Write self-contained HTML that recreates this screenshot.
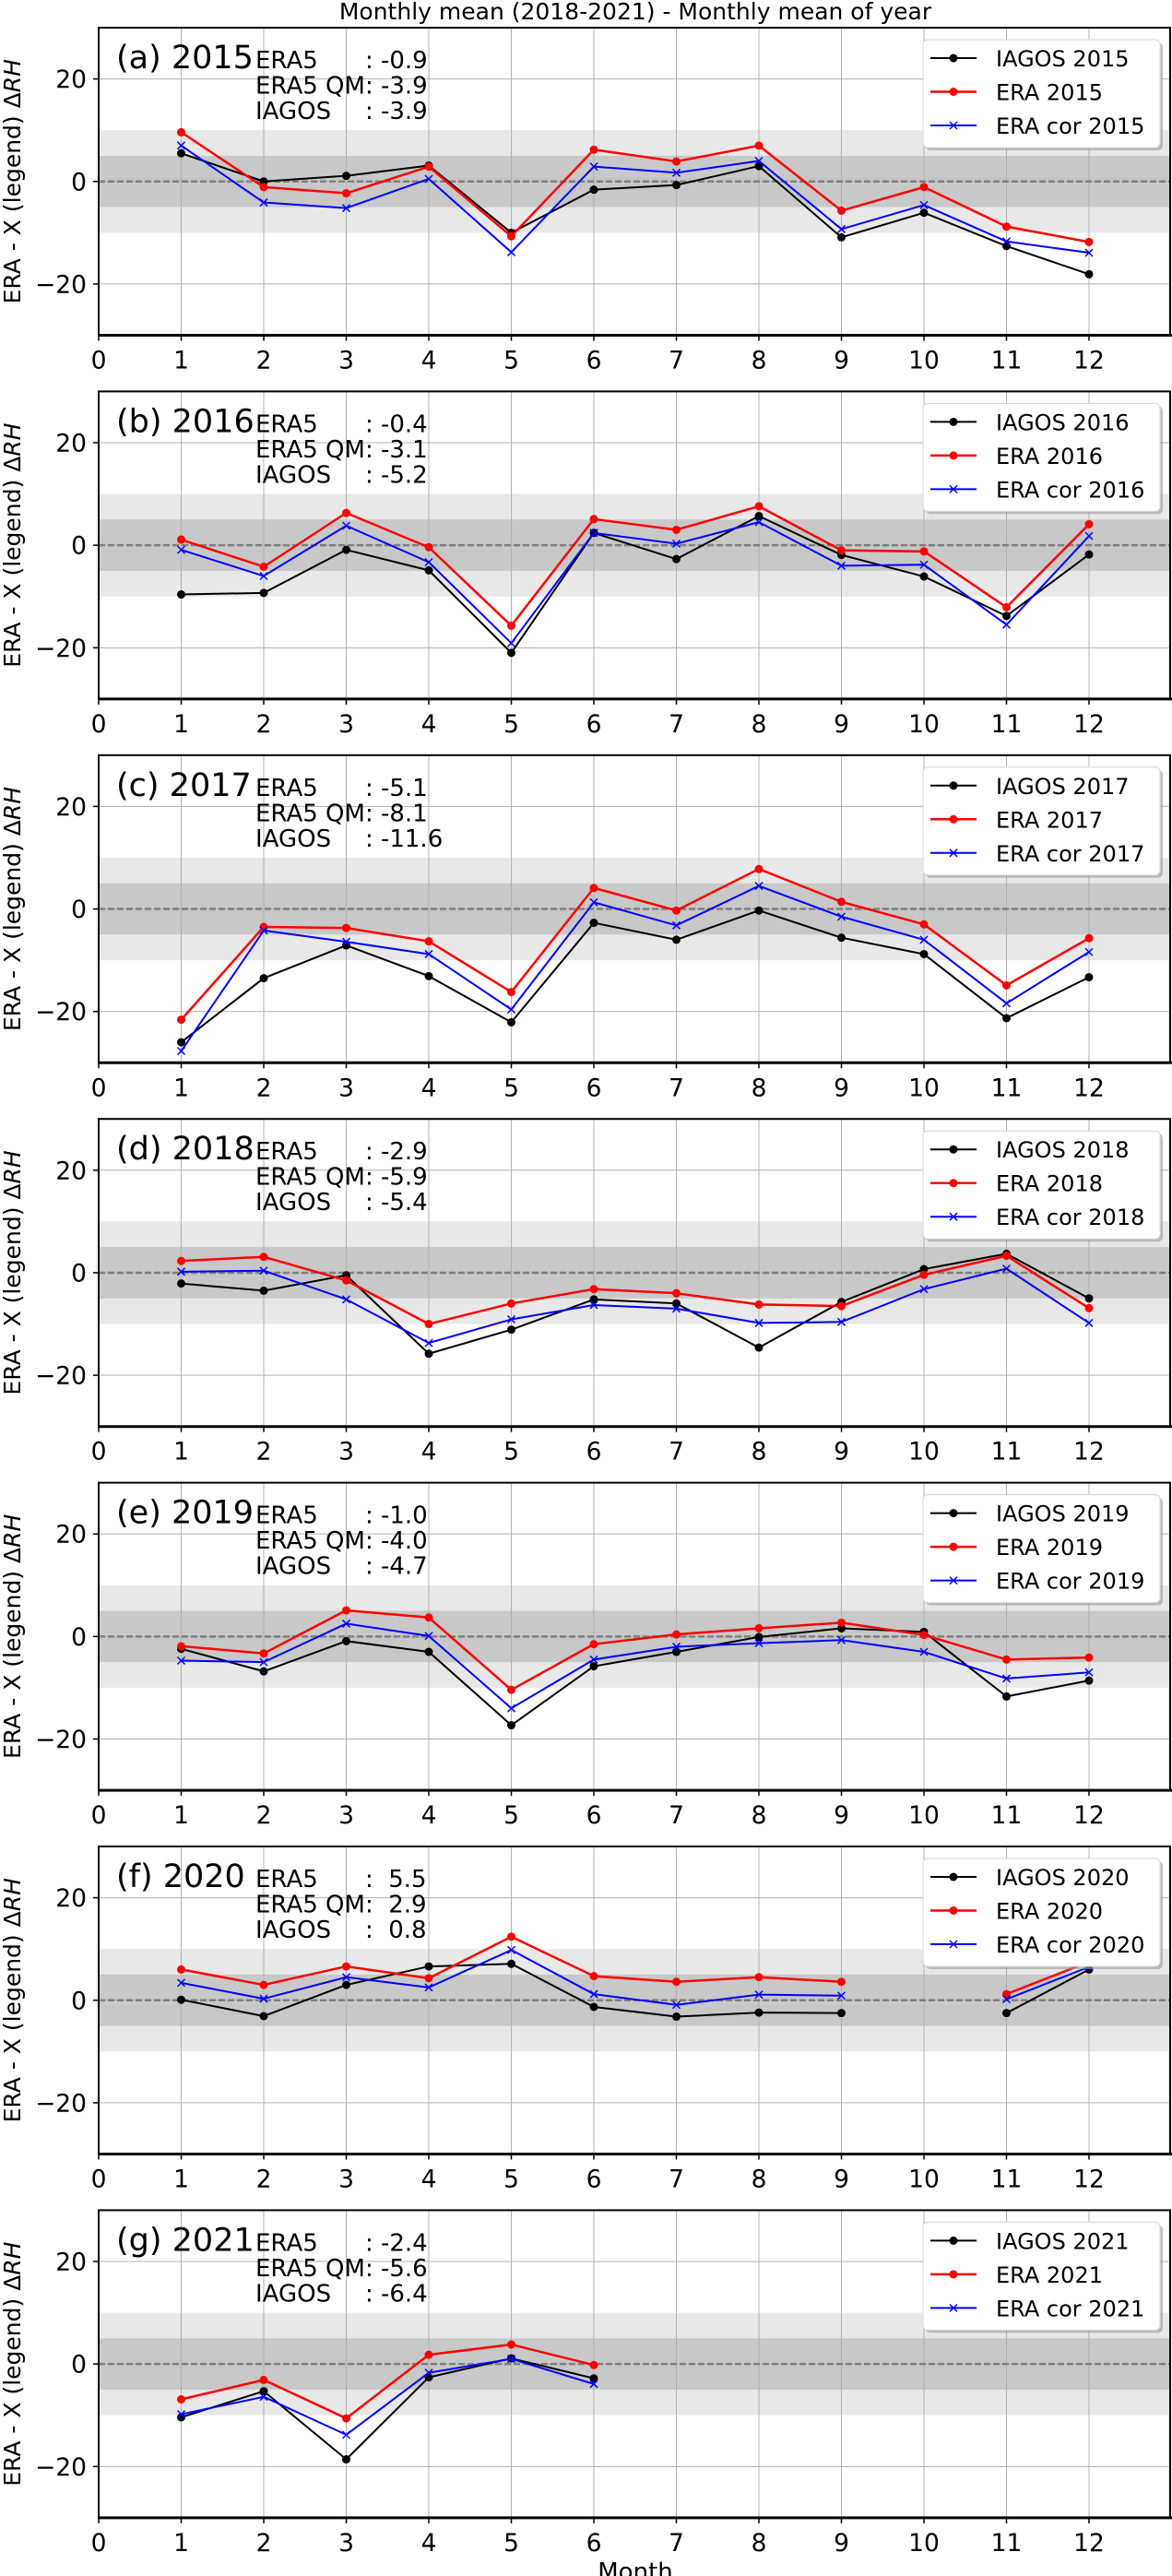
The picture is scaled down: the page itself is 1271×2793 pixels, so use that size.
<!DOCTYPE html>
<html><head><meta charset="utf-8"><style>
html,body{margin:0;padding:0;background:#fff;}
svg{display:block;font-family:"DejaVu Sans","Liberation Sans",sans-serif;}
</style></head><body>
<svg id="fig" width="1271" height="2793" viewBox="0 0 1271 2793" xmlns="http://www.w3.org/2000/svg">
<text x="689" y="21" font-size="25" text-anchor="middle">Monthly mean (2018-2021) - Monthly mean of year</text>
<text x="689" y="2797" font-size="26" text-anchor="middle">Month</text>
</svg>
<script>
const months = [1,2,3,4,5,6,7,8,9,10,11,12];
const xTicks = [0,1,2,3,4,5,6,7,8,9,10,11,12];
const yTicks = [20,0,-20];
const yTickLabels = ["20","0","\u221220"];
const years = ["2015","2016","2017","2018","2019","2020","2021"];
const panelLetters = ["a","b","c","d","e","f","g"];
const statEra5 = ["-0.9","-0.4","-5.1","-2.9","-1.0"," 5.5","-2.4"];
const statEra5QM = ["-3.9","-3.1","-8.1","-5.9","-4.0"," 2.9","-5.6"];
const statIagos = ["-3.9","-5.2","-11.6","-5.4","-4.7"," 0.8","-6.4"];

const iagos2015 = [5.5,0,1.1,3.1,-10,-1.6,-0.7,3,-10.9,-6.1,-12.6,-18.1];
const era2015   = [9.6,-1.1,-2.3,2.9,-10.7,6.2,3.9,7,-5.7,-1.1,-8.8,-11.8];
const cor2015   = [7,-4.1,-5.2,0.5,-13.8,2.9,1.7,4,-9.3,-4.6,-11.7,-13.9];
const iagos2016 = [-9.6,-9.3,-0.9,-4.9,-21,2.4,-2.7,5.7,-1.9,-6.1,-13.8,-1.8];
const era2016   = [1.1,-4.2,6.3,-0.4,-15.7,5.1,3.0,7.6,-1,-1.2,-12.1,4.1];
const cor2016   = [-0.9,-6,3.8,-3.3,-19.1,2.4,0.3,4.5,-4,-3.8,-15.5,1.8];
const iagos2017 = [-26,-13.5,-7.1,-13.1,-22.1,-2.7,-6,-0.3,-5.6,-8.8,-21.3,-13.3];
const era2017   = [-21.6,-3.5,-3.7,-6.3,-16.2,4.1,-0.3,7.8,1.4,-3,-14.9,-5.7];
const cor2017   = [-27.7,-4.2,-6.4,-8.8,-19.6,1.3,-3.2,4.5,-1.5,-6,-18.4,-8.4];
const iagos2018 = [-2.1,-3.5,-0.5,-15.8,-11.1,-5.2,-6,-14.6,-5.7,0.7,3.7,-5];
const era2018   = [2.3,3.1,-1.5,-10,-6,-3.2,-4,-6.2,-6.5,-0.4,3.3,-6.9];
const cor2018   = [0.2,0.4,-5.2,-13.7,-9.1,-6.3,-7,-9.8,-9.6,-3.2,0.8,-9.8];
const iagos2019 = [-2.4,-6.8,-0.9,-3,-17.3,-5.8,-3,-0.1,1.6,0.9,-11.7,-8.6];
const era2019   = [-1.9,-3.3,5.1,3.7,-10.4,-1.5,0.4,1.6,2.7,0.3,-4.5,-4.1];
const cor2019   = [-4.7,-5,2.5,0.1,-14,-4.5,-2,-1.3,-0.7,-3,-8.2,-7];
const iagos2020 = [0.1,-3.1,3,6.6,7.1,-1.3,-3.2,-2.4,-2.5,null,-2.5,6.0];
const era2020   = [6,3,6.6,4.3,12.4,4.7,3.6,4.5,3.6,null,1.2,7.5];
const cor2020   = [3.4,0.3,4.5,2.5,9.8,1.2,-0.9,1.1,0.9,null,0.2,6.5];
const iagos2021 = [-10.4,-5.3,-18.6,-2.6,1.1,-2.8,null,null,null,null,null,null];
const era2021   = [-6.9,-3.1,-10.6,1.8,3.8,-0.2,null,null,null,null,null,null];
const cor2021   = [-9.8,-6.4,-13.8,-1.7,1.0,-3.9,null,null,null,null,null,null];

const iagosSeries = [iagos2015,iagos2016,iagos2017,iagos2018,iagos2019,iagos2020,iagos2021];
const eraSeries = [era2015,era2016,era2017,era2018,era2019,era2020,era2021];
const corSeries = [cor2015,cor2016,cor2017,cor2018,cor2019,cor2020,cor2021];

const NS = "http://www.w3.org/2000/svg";
const svg = document.getElementById("fig");
function mk(tag, attrs, parent){
  const e = document.createElementNS(NS, tag);
  for (const k in attrs) e.setAttribute(k, attrs[k]);
  (parent||svg).appendChild(e);
  return e;
}
const X0 = 107, XR = 1269, XSTEP = 89.5, PH = 333.5, PSTEP = 394.4, TOP0 = 30;
const xPix = m => X0 + m * XSTEP;

years.forEach((yr, k) => {
  const top = TOP0 + PSTEP * k;
  const yPix = v => top + (30 - v) / 60 * PH;
  const g = mk("g", {});
  
  

  const clipId = "clip" + k;
  const cp = mk("clipPath", {id: clipId}, g);
  mk("rect", {x: X0, y: top, width: XR - X0, height: PH}, cp);

  const b1 = mk("rect", {x: X0, y: yPix(10), width: XR - X0, height: yPix(-10) - yPix(10), fill: "#e8e8e8"}, g);
  
  
  const b2 = mk("rect", {x: X0, y: yPix(5), width: XR - X0, height: yPix(-5) - yPix(5), fill: "#c8c8c8"}, g);
  
  

  xTicks.forEach(t => {
    if (t === 0) return;
    const l = mk("line", {x1: xPix(t), x2: xPix(t), y1: top, y2: top + PH, stroke: "#b0b0b0", "stroke-width": 1}, g);
    
    
  });
  yTicks.forEach(t => {
    const l = mk("line", {x1: X0, x2: XR, y1: yPix(t), y2: yPix(t), stroke: "#b0b0b0", "stroke-width": 1}, g);
    
    
  });
  const zl = mk("line", {x1: X0, x2: XR, y1: yPix(0), y2: yPix(0), stroke: "#808080", "stroke-width": 2.5, "stroke-dasharray": "7,3"}, g);
  
  

  const sg = mk("g", {"clip-path": "url(#" + clipId + ")"}, g);
  function drawSeries(vals, color, width, marker, name){
    const sgr = mk("g", {}, sg);
    
    
    let seg = [];
    const segs = [];
    vals.forEach((v, i) => {
      if (v === null) { if (seg.length) segs.push(seg); seg = []; }
      else seg.push([xPix(months[i]), yPix(v)]);
    });
    if (seg.length) segs.push(seg);
    segs.forEach(s => {
      if (s.length > 1) mk("polyline", {points: s.map(p => p.join(",")).join(" "), fill: "none", stroke: color, "stroke-width": width, "stroke-linejoin": "round"}, sgr);
    });
    vals.forEach((v, i) => {
      if (v === null) return;
      const cx = xPix(months[i]), cy = yPix(v);
      if (marker === "o") {
        const c = mk("circle", {cx: cx, cy: cy, r: 4.5, fill: color}, sgr);
        
        
      } else {
        const p = mk("path", {d: `M${cx-4},${cy-4}L${cx+4},${cy+4}M${cx-4},${cy+4}L${cx+4},${cy-4}`, stroke: color, "stroke-width": 1.5}, sgr);
        
        
      }
    });
  }
  drawSeries(iagosSeries[k], "#000000", 2, "o", "iagos-" + yr);
  drawSeries(eraSeries[k], "#ff0000", 2.5, "o", "era-" + yr);
  drawSeries(corSeries[k], "#0000ff", 2, "x", "era-cor-" + yr);

  const fr = mk("rect", {x: X0, y: top, width: XR - X0, height: PH, fill: "none", stroke: "#000", "stroke-width": 2}, g);
  
  
  mk("line", {x1: X0, x2: XR + 2, y1: top + PH, y2: top + PH, stroke: "#000", "stroke-width": 3}, g);

  yTicks.forEach((t, i) => {
    mk("line", {x1: X0 - 6, x2: X0, y1: yPix(t), y2: yPix(t), stroke: "#000", "stroke-width": 1.5}, g);
    const tx = mk("text", {x: 94, y: yPix(t) + 9.5, "font-size": 26.5, "text-anchor": "end"}, g);
    tx.textContent = yTickLabels[i];
    
    
  });
  xTicks.forEach(t => {
    mk("line", {x1: xPix(t), x2: xPix(t), y1: top + PH, y2: top + PH + 6, stroke: "#000", "stroke-width": 1.5}, g);
    const tx = mk("text", {x: xPix(t), y: top + PH + 36, "font-size": 26.5, "text-anchor": "middle"}, g);
    tx.textContent = String(t);
    
    
  });

  const cy = top + PH / 2;
  const yl = mk("text", {x: 0, y: 0, "font-size": 25, "text-anchor": "middle", transform: `translate(22,${cy}) rotate(-90)`}, g);
  yl.innerHTML = 'ERA - X (legend) \u0394<tspan font-style="italic">RH</tspan>';
  
  

  const pl = mk("text", {x: 126, y: top + 44, "font-size": 35}, g);
  pl.textContent = "(" + panelLetters[k] + ") " + yr;
  
  

  const labels = ["ERA5", "ERA5 QM", "IAGOS"];
  const vals = [statEra5[k], statEra5QM[k], statIagos[k]];
  const texts = [];
  labels.forEach((lb, i) => {
    const by = top + 44 + i * 27.5;
    const t1 = mk("text", {x: 277, y: by, "font-size": 26}, g);
    t1.textContent = lb;
    
    
    const t2 = mk("text", {x: 404, y: by, "font-size": 26}, g);
    t2.textContent = ": " + vals[i];
    t2.style.whiteSpace = "pre";
    
    
    texts.push([t1, t2]);
  });
  let cx = 404;
  try { cx = 277 + texts[1][0].getComputedTextLength(); } catch (e) {}
  texts.forEach(p => p[1].setAttribute("x", cx));

  const lg = mk("g", {}, g);
  
  
  mk("rect", {x: 1004, y: top + 16, width: 257, height: 117, rx: 5, fill: "#999", opacity: 0.6}, lg);
  mk("rect", {x: 1001, y: top + 13, width: 257, height: 117, rx: 5, fill: "#fff", stroke: "#d8d8d8", "stroke-width": 1}, lg);
  const entries = [["IAGOS " + yr, "#000", 2, "o"], ["ERA " + yr, "#ff0000", 2.5, "o"], ["ERA cor " + yr, "#0000ff", 2, "x"]];
  entries.forEach((en, i) => {
    const ly = top + 33 + i * 36.5;
    const eg = mk("g", {}, lg);
    
    
    mk("line", {x1: 1009, x2: 1059, y1: ly, y2: ly, stroke: en[1], "stroke-width": en[2]}, eg);
    if (en[3] === "o") mk("circle", {cx: 1034, cy: ly, r: 4.5, fill: en[1]}, eg);
    else mk("path", {d: `M1030,${ly-4}L1038,${ly+4}M1030,${ly+4}L1038,${ly-4}`, stroke: en[1], "stroke-width": 1.5}, eg);
    const t = mk("text", {x: 1080, y: ly + 9, "font-size": 24}, eg);
    t.textContent = en[0];
  });
});
</script>
</body></html>
